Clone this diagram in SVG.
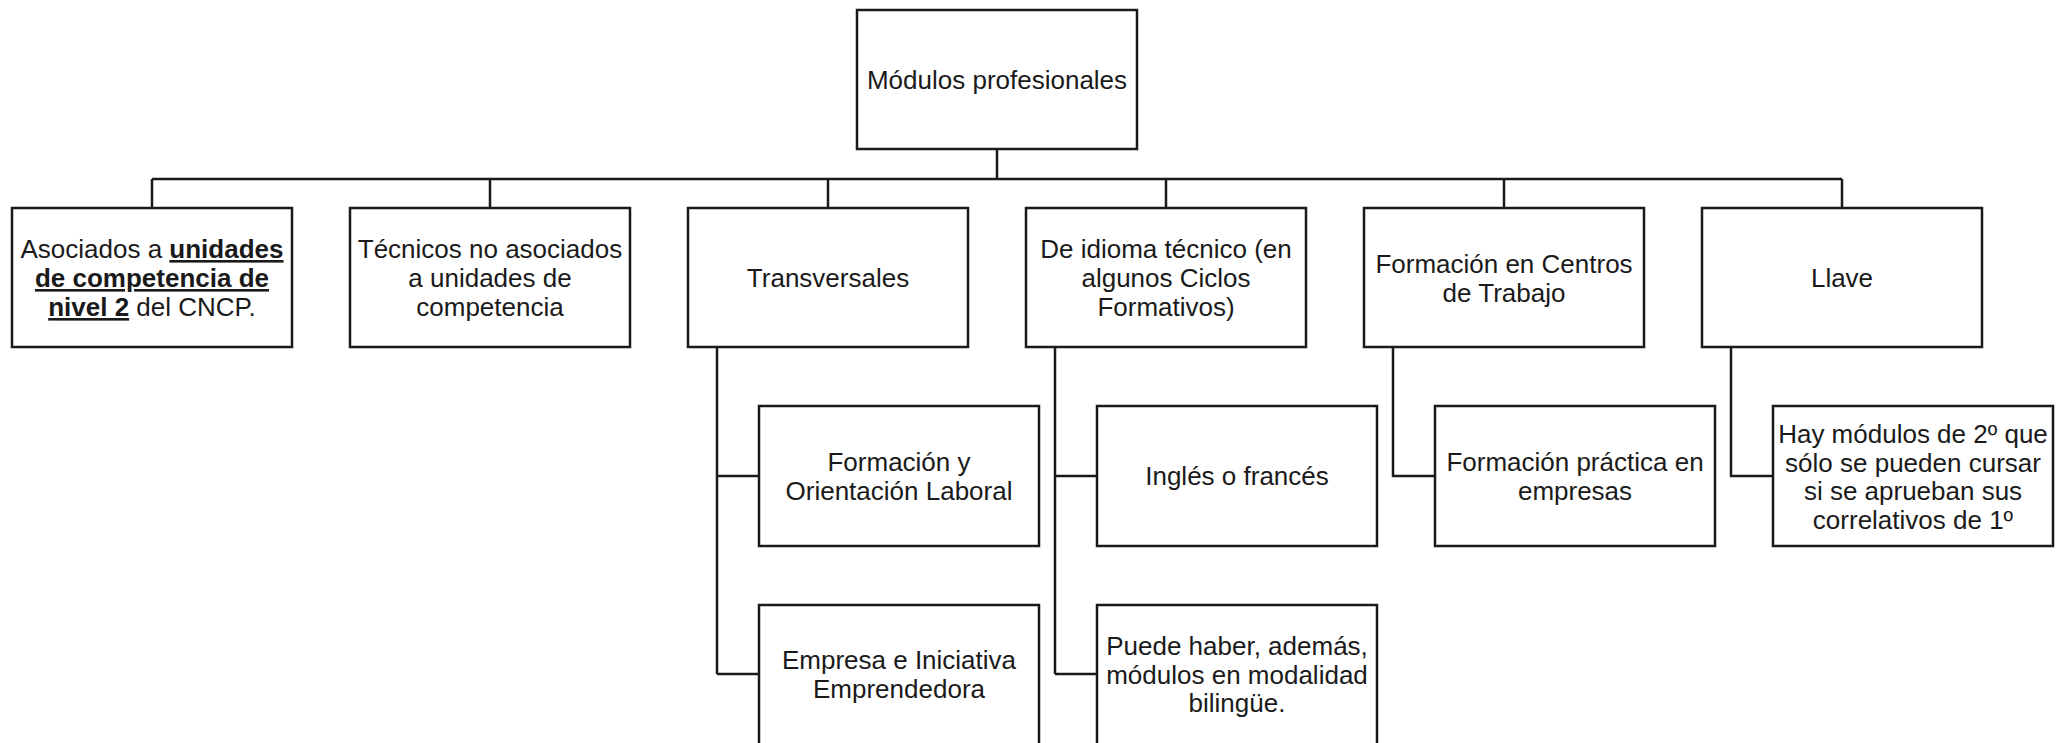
<svg xmlns="http://www.w3.org/2000/svg" width="2066" height="743" viewBox="0 0 2066 743">
<style>
.box{fill:#fff;stroke:#1a1a1a;stroke-width:2.5}
.con{fill:none;stroke:#1a1a1a;stroke-width:2.5}
.t{font-family:"Liberation Sans",Arial,sans-serif;font-size:26px;fill:#1a1a1a;text-anchor:middle}
.b{font-weight:bold;text-decoration:underline}
</style>
<rect width="2066" height="743" fill="#fff"/>
<g id="connectors">
<path class="con" d="M997 149V179M152 179H1842M152 179V208M490 179V208M828 179V208M1166 179V208M1504 179V208M1842 179V208"/>
<path class="con" d="M717 347V674M717 476H759M717 674H759"/>
<path class="con" d="M1055 347V674M1055 476H1097M1055 674H1097"/>
<path class="con" d="M1393 347V476H1435"/>
<path class="con" d="M1731 347V476H1773"/>
</g>
<g id="root"><rect class="box" x="857" y="10" width="280" height="139"/><text class="t" x="997" y="89">Módulos profesionales</text></g>
<g id="asociados"><rect class="box" x="12" y="208" width="280" height="139"/><text class="t" x="152" y="258">Asociados a <tspan class="b">unidades</tspan><tspan x="152" dy="29" class="b">de competencia de</tspan><tspan x="152" dy="29"><tspan class="b">nivel 2</tspan> del CNCP.</tspan></text></g>
<g id="tecnicos"><rect class="box" x="350" y="208" width="280" height="139"/><text class="t" x="490" y="258">Técnicos no asociados<tspan x="490" dy="29">a unidades de</tspan><tspan x="490" dy="29">competencia</tspan></text></g>
<g id="transversales"><rect class="box" x="688" y="208" width="280" height="139"/><text class="t" x="828" y="287">Transversales</text></g>
<g id="idioma"><rect class="box" x="1026" y="208" width="280" height="139"/><text class="t" x="1166" y="258">De idioma técnico (en<tspan x="1166" dy="29">algunos Ciclos</tspan><tspan x="1166" dy="29">Formativos)</tspan></text></g>
<g id="fct"><rect class="box" x="1364" y="208" width="280" height="139"/><text class="t" x="1504" y="273">Formación en Centros<tspan x="1504" dy="29">de Trabajo</tspan></text></g>
<g id="llave"><rect class="box" x="1702" y="208" width="280" height="139"/><text class="t" x="1842" y="287">Llave</text></g>
<g id="fol"><rect class="box" x="759" y="406" width="280" height="140"/><text class="t" x="899" y="471">Formación y<tspan x="899" dy="28.5">Orientación Laboral</tspan></text></g>
<g id="eie"><rect class="box" x="759" y="605" width="280" height="145"/><text class="t" x="899" y="669">Empresa e Iniciativa<tspan x="899" dy="28.5">Emprendedora</tspan></text></g>
<g id="ingles"><rect class="box" x="1097" y="406" width="280" height="140"/><text class="t" x="1237" y="485">Inglés o francés</text></g>
<g id="bilingue"><rect class="box" x="1097" y="605" width="280" height="145"/><text class="t" x="1237" y="655">Puede haber, además,<tspan x="1237" dy="28.5">módulos en modalidad</tspan><tspan x="1237" dy="28.5">bilingüe.</tspan></text></g>
<g id="practica"><rect class="box" x="1435" y="406" width="280" height="140"/><text class="t" x="1575" y="471">Formación práctica en<tspan x="1575" dy="28.5">empresas</tspan></text></g>
<g id="correlativos"><rect class="box" x="1773" y="406" width="280" height="140"/><text class="t" x="1913" y="443">Hay módulos de 2º que<tspan x="1913" dy="28.5">sólo se pueden cursar</tspan><tspan x="1913" dy="28.5">si se aprueban sus</tspan><tspan x="1913" dy="28.5">correlativos de 1º</tspan></text></g>
</svg>
